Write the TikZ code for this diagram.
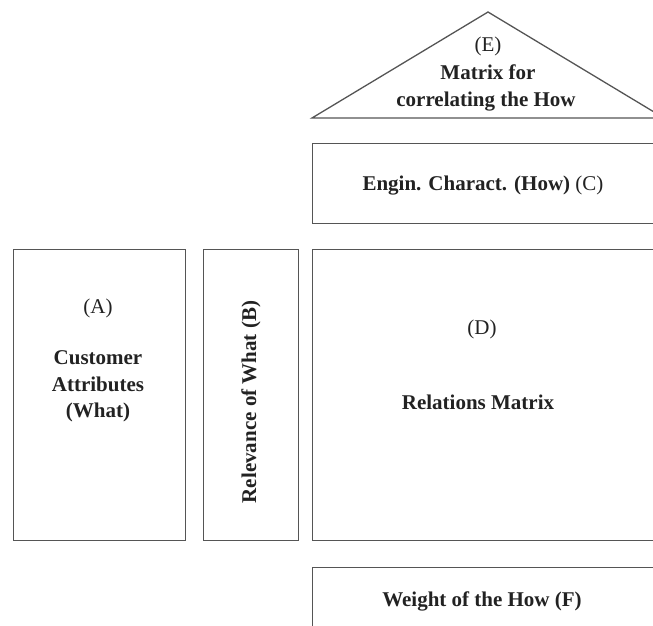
\documentclass[tikz,border=0pt]{standalone}
\usepackage{fontspec}
\setmainfont{Liberation Serif}
\definecolor{linegray}{HTML}{555555}
\definecolor{textdark}{HTML}{222222}
\tikzset{
  boxshape/.style={draw=linegray, line width=1.3pt, inner sep=0pt, anchor=north west},
  lbl/.style={text=textdark, font=\fontsize{21}{26}\selectfont, inner sep=0pt, anchor=base, align=center},
  blbl/.style={lbl, font=\fontsize{21}{26}\selectfont\bfseries}
}
\begin{document}
\begin{tikzpicture}[x=1pt,y=-1pt]
\useasboundingbox (0,0) rectangle (653,626);
\clip (0,0) rectangle (653,626);
% triangle (E)
\coordinate (apex) at (488,12);
\coordinate (tl) at (312,118);
\coordinate (tr) at (664,118);
\draw[draw=linegray, line width=1.3pt, line join=miter] (tl) -- (apex) -- (tr) -- cycle;
\node[lbl] (eLabel) at (488,52) {(E)};
\node[blbl] (eText1) at (488,79) {Matrix for};
\node[blbl] (eText2) at (486,106) {correlating the How};
% box C
\node[boxshape, minimum width=344pt, minimum height=80pt] (boxC) at (312,143) {};
\node[lbl] (cText) at (483,190) {\textbf{Engin. Charact. (How)} (C)};
% box A
\node[boxshape, minimum width=172pt, minimum height=291pt] (boxA) at (13,249) {};
\node[lbl] (aLabel) at (98,313) {(A)};
\node[blbl] (aText1) at (98,364) {Customer};
\node[blbl] (aText2) at (98,391) {Attributes};
\node[blbl] (aText3) at (98,417) {(What)};
% box B
\node[boxshape, minimum width=95pt, minimum height=291pt] (boxB) at (203,249) {};
\node[text=textdark, font=\fontsize{21}{26}\selectfont\bfseries, inner sep=0pt, rotate=90] (bText) at (251,402) {Relevance of What (B)};
% box D
\node[boxshape, minimum width=344pt, minimum height=291pt] (boxD) at (312,249) {};
\node[lbl] (dLabel) at (482,334) {(D)};
\node[blbl] (dText) at (478,409) {Relations Matrix};
% box F
\node[boxshape, minimum width=344pt, minimum height=66pt] (boxF) at (312,567) {};
\node[blbl] (fText) at (482,606) {Weight of the How (F)};
\end{tikzpicture}
\end{document}
